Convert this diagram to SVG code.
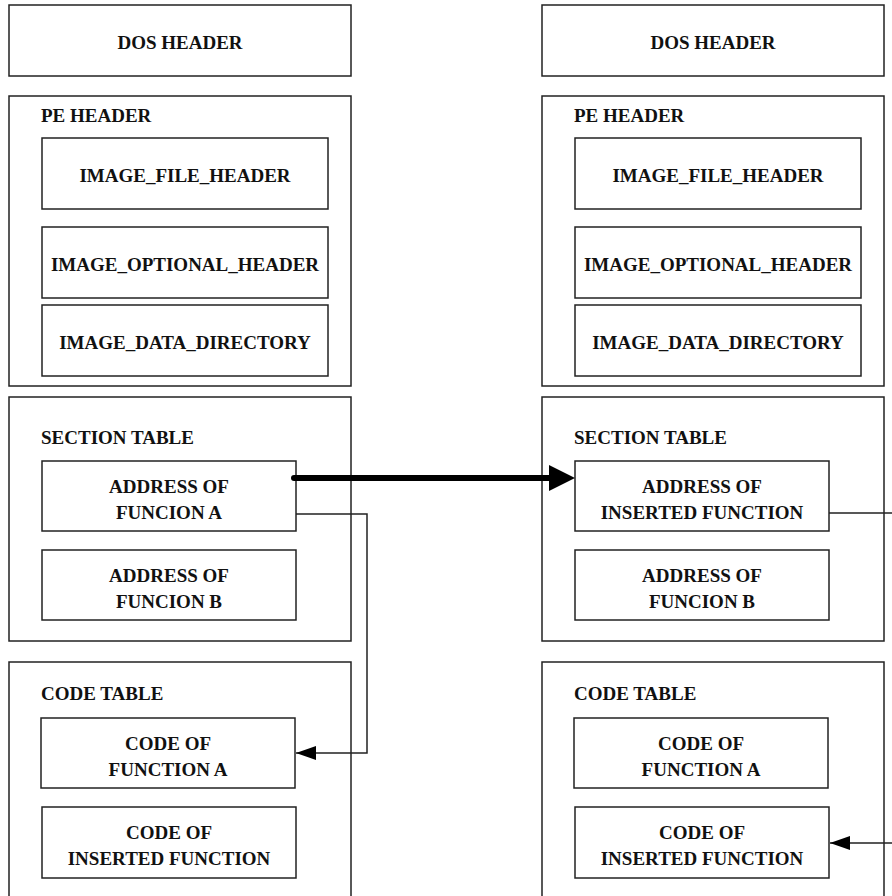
<svg xmlns="http://www.w3.org/2000/svg" width="892" height="896" viewBox="0 0 892 896" font-family="Liberation Serif, Times New Roman, serif">
  <style>
    .box { fill: #ffffff; stroke: #222222; stroke-width: 1.5; }
    .lbl { font-weight: bold; font-size: 19px; fill: #111111; }
    .mid { text-anchor: middle; }
    .wire { fill: none; stroke: #222222; stroke-width: 1.5; }
    .bold-wire { fill: none; stroke: #000000; stroke-width: 6; stroke-linecap: round; }
  </style>
  <defs>
    <marker id="tip" viewBox="0 0 20 14" refX="20" refY="7" markerWidth="20" markerHeight="14" markerUnits="userSpaceOnUse" orient="auto">
      <path d="M0,0 L20,7 L0,14 Z" fill="#000000"/>
    </marker>
  </defs>

  <!-- original file layout -->
  <g id="left-dos-header">
    <rect class="box" x="9" y="5" width="342" height="71"/>
    <text class="lbl mid" x="180" y="49">DOS HEADER</text>
  </g>
  <g id="left-pe-header">
    <rect class="box" x="9" y="96" width="342" height="290"/>
    <text class="lbl" x="41" y="122">PE HEADER</text>
  </g>
  <g id="left-image-file-header">
    <rect class="box" x="42" y="138" width="286" height="71"/>
    <text class="lbl mid" x="185" y="182">IMAGE_FILE_HEADER</text>
  </g>
  <g id="left-image-optional-header">
    <rect class="box" x="42" y="227" width="286" height="71"/>
    <text class="lbl mid" x="185" y="271">IMAGE_OPTIONAL_HEADER</text>
  </g>
  <g id="left-image-data-directory">
    <rect class="box" x="42" y="305" width="286" height="71"/>
    <text class="lbl mid" x="185" y="349">IMAGE_DATA_DIRECTORY</text>
  </g>
  <g id="left-section-table">
    <rect class="box" x="9" y="397" width="342" height="244"/>
    <text class="lbl" x="41" y="444">SECTION TABLE</text>
  </g>
  <g id="left-address-a">
    <rect class="box" x="42" y="461" width="254" height="70"/>
    <text class="lbl mid" x="169" y="493">ADDRESS OF</text>
    <text class="lbl mid" x="169" y="518.5">FUNCION A</text>
  </g>
  <g id="left-address-b">
    <rect class="box" x="42" y="550" width="254" height="70"/>
    <text class="lbl mid" x="169" y="582">ADDRESS OF</text>
    <text class="lbl mid" x="169" y="607.5">FUNCION B</text>
  </g>
  <g id="left-code-table">
    <rect class="box" x="9" y="662" width="342" height="260"/>
    <text class="lbl" x="41" y="700">CODE TABLE</text>
  </g>
  <g id="left-code-a">
    <rect class="box" x="41" y="718" width="254" height="70"/>
    <text class="lbl mid" x="168" y="750">CODE OF</text>
    <text class="lbl mid" x="168" y="775.5">FUNCTION A</text>
  </g>
  <g id="left-code-inserted">
    <rect class="box" x="42" y="807" width="254" height="71"/>
    <text class="lbl mid" x="169" y="839">CODE OF</text>
    <text class="lbl mid" x="169" y="864.5">INSERTED FUNCTION</text>
  </g>

  <!-- patched file layout -->
  <g id="right-dos-header">
    <rect class="box" x="542" y="5" width="342" height="71"/>
    <text class="lbl mid" x="713" y="49">DOS HEADER</text>
  </g>
  <g id="right-pe-header">
    <rect class="box" x="542" y="96" width="342" height="290"/>
    <text class="lbl" x="574" y="122">PE HEADER</text>
  </g>
  <g id="right-image-file-header">
    <rect class="box" x="575" y="138" width="286" height="71"/>
    <text class="lbl mid" x="718" y="182">IMAGE_FILE_HEADER</text>
  </g>
  <g id="right-image-optional-header">
    <rect class="box" x="575" y="227" width="286" height="71"/>
    <text class="lbl mid" x="718" y="271">IMAGE_OPTIONAL_HEADER</text>
  </g>
  <g id="right-image-data-directory">
    <rect class="box" x="575" y="305" width="286" height="71"/>
    <text class="lbl mid" x="718" y="349">IMAGE_DATA_DIRECTORY</text>
  </g>
  <g id="right-section-table">
    <rect class="box" x="542" y="397" width="342" height="244"/>
    <text class="lbl" x="574" y="444">SECTION TABLE</text>
  </g>
  <g id="right-address-inserted">
    <rect class="box" x="575" y="461" width="254" height="70"/>
    <text class="lbl mid" x="702" y="493">ADDRESS OF</text>
    <text class="lbl mid" x="702" y="518.5">INSERTED FUNCTION</text>
  </g>
  <g id="right-address-b">
    <rect class="box" x="575" y="550" width="254" height="70"/>
    <text class="lbl mid" x="702" y="582">ADDRESS OF</text>
    <text class="lbl mid" x="702" y="607.5">FUNCION B</text>
  </g>
  <g id="right-code-table">
    <rect class="box" x="542" y="662" width="342" height="260"/>
    <text class="lbl" x="574" y="700">CODE TABLE</text>
  </g>
  <g id="right-code-a">
    <rect class="box" x="574" y="718" width="254" height="70"/>
    <text class="lbl mid" x="701" y="750">CODE OF</text>
    <text class="lbl mid" x="701" y="775.5">FUNCTION A</text>
  </g>
  <g id="right-code-inserted">
    <rect class="box" x="575" y="807" width="254" height="71"/>
    <text class="lbl mid" x="702" y="839">CODE OF</text>
    <text class="lbl mid" x="702" y="864.5">INSERTED FUNCTION</text>
  </g>

  <!-- connectors -->
  <g id="connectors">
    <path class="wire" d="M296,514 H367 V753 H296" marker-end="url(#tip)"/>
    <path class="wire" d="M829,513 H905 V843 H830" marker-end="url(#tip)"/>
    <path class="bold-wire" d="M294,478 H560"/>
    <path d="M549,465 L575,478 L549,491 Z" fill="#000000"/>
  </g>
</svg>
